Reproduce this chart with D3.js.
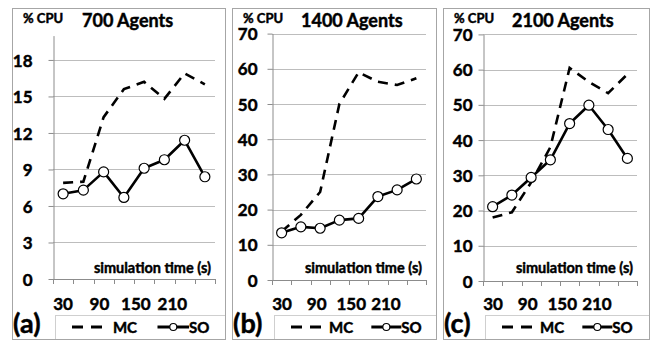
<!DOCTYPE html>
<html>
<head>
<meta charset="utf-8">
<script src="https://cdn.jsdelivr.net/npm/d3@7"></script>
<style>
  body { margin: 0; background: #fff; }
  svg { display: block; }
  svg text { font-family: Lato, "Open Sans", sans-serif; font-weight: bold; fill: #000;
             stroke: #000; stroke-width: 0.45px; }
</style>
</head>
<body>
<svg width="652" height="341"></svg>
<script>
// data
var times = [30, 60, 90, 120, 150, 180, 210, 240];
var timeLabels = [30, 90, 150, 210];
var titles = ["700 Agents", "1400 Agents", "2100 Agents"];
var tags = ["(a)", "(b)", "(c)"];
var mc700 = [7.9, 8.0, 13.3, 15.6, 16.2, 14.8, 16.9, 16.0];
var so700 = [7.0, 7.3, 8.8, 6.7, 9.1, 9.8, 11.4, 8.4];
var mc1400 = [13.8, 18.5, 25.0, 50.0, 59.0, 56.3, 55.4, 57.3];
var so1400 = [13.4, 15.1, 14.7, 17.0, 17.5, 23.7, 25.6, 28.7];
var mc2100 = [18.0, 19.5, 28.0, 38.0, 60.5, 56.5, 53.3, 58.7];
var so2100 = [21.1, 24.4, 29.4, 34.4, 44.7, 49.9, 43.0, 34.8];
var yMax = [20, 70, 70];
var yStep = [3, 10, 10];

// panel geometry
var panels = [
  {left: 12, right: 225, x0: 53, x1: 215, y0: 279, yTop: 35.6, pad: 16, mc: mc700, so: so700},
  {left: 232, right: 436, x0: 272, x1: 426, y0: 280, yTop: 33.6, pad: 10, mc: mc1400, so: so1400},
  {left: 443, right: 649, x0: 483, x1: 637, y0: 281, yTop: 34.4, pad: 6, mc: mc2100, so: so2100}
];
var frameTop = 8, frameBottom = 339;

var svg = d3.select("svg");

panels.forEach(function(p, i) {
  var g = svg.append("g");
  var w = p.x1 - p.x0;

  var x = d3.scaleBand().domain(times).range([p.x0, p.x1]);
  var y = d3.scaleLinear().domain([0, yMax[i]]).range([p.y0, p.yTop]);
  var cx = function(t) { return x(t) + x.bandwidth() / 2; };

  var ticks = d3.range(0, yMax[i] + 1, yStep[i]);

  // gridlines
  g.selectAll(".grid")
    .data(ticks.filter(function(v) { return v > 0; }))
    .enter().append("line")
      .attr("x1", p.x0).attr("x2", p.x1)
      .attr("y1", function(v) { return Math.round(y(v)) + 0.5; })
      .attr("y2", function(v) { return Math.round(y(v)) + 0.5; })
      .attr("stroke", "#bdbdbd");

  // y axis
  var ya = g.append("g")
      .attr("transform", "translate(" + (p.x0 + 0.5) + ",0)")
      .call(d3.axisLeft(y).tickValues(ticks).tickSize(5).tickSizeOuter(0).tickPadding(p.pad));
  ya.selectAll("path, line").attr("stroke", "#8c8c8c");
  ya.selectAll("text").style("font-size", "17px").attr("dy", "0.36em");

  // x axis line + ticks at band edges
  g.append("line")
      .attr("x1", p.x0).attr("x2", p.x1)
      .attr("y1", Math.round(p.y0) + 0.5).attr("y2", Math.round(p.y0) + 0.5)
      .attr("stroke", "#8c8c8c");
  g.selectAll(".xt")
    .data(times.concat(["end"]))
    .enter().append("line")
      .attr("x1", function(t) { return Math.round(t === "end" ? p.x1 : x(t)) + 0.5; })
      .attr("x2", function(t) { return Math.round(t === "end" ? p.x1 : x(t)) + 0.5; })
      .attr("y1", Math.round(p.y0)).attr("y2", Math.round(p.y0) + 5)
      .attr("stroke", "#8c8c8c");

  // x labels (squeezed like the original)
  var xl = d3.scalePoint().domain(timeLabels).range([p.x0 + 10, p.x0 + 10 + w * 0.675]);
  g.selectAll(".xl")
    .data(timeLabels)
    .enter().append("text")
      .attr("x", function(d) { return xl(d); })
      .attr("y", 310)
      .attr("text-anchor", "middle")
      .style("font-size", "17px")
      .text(function(d) { return d; });

  // titles
  g.append("text").attr("x", p.left + 11).attr("y", 23)
      .style("font-size", "13px").text("% CPU");
  g.append("text").attr("x", p.x0 + 29).attr("y", 27)
      .style("font-size", "18px").text(titles[i]);
  g.append("text").attr("x", p.x1 - 4).attr("y", 273)
      .attr("text-anchor", "end")
      .style("font-size", "14.5px").text("simulation time (s)");

  // series
  var line = d3.line()
      .x(function(d, k) { return cx(times[k]); })
      .y(function(d) { return y(d); });

  g.append("path").datum(p.mc)
      .attr("d", line)
      .attr("fill", "none").attr("stroke", "#000")
      .attr("stroke-width", 2.6).attr("stroke-dasharray", "10,7");

  g.append("path").datum(p.so)
      .attr("d", line)
      .attr("fill", "none").attr("stroke", "#000")
      .attr("stroke-width", 2.6).attr("stroke-linejoin", "round");

  g.selectAll(".pt")
    .data(p.so)
    .enter().append("circle")
      .attr("cx", function(d, k) { return cx(times[k]); })
      .attr("cy", function(d) { return y(d); })
      .attr("r", 5)
      .attr("fill", "#fff").attr("stroke", "#000").attr("stroke-width", 1.2);

  // legend
  var lx = p.x0 + 2, ly = 327;
  g.append("rect")
      .attr("x", lx + 0.5).attr("y", 315.5)
      .attr("width", p.right - lx).attr("height", frameBottom - 315)
      .attr("fill", "#fff").attr("stroke", "#cfcfcf");
  g.append("line")
      .attr("x1", p.x0 + 19).attr("x2", p.x0 + 19 + 30)
      .attr("y1", ly).attr("y2", ly)
      .attr("stroke", "#000").attr("stroke-width", 3).attr("stroke-dasharray", "11,8");
  g.append("text").attr("x", p.x0 + 0.37 * w).attr("y", ly + 6)
      .style("font-size", "15px").text("MC");
  var s0 = p.x0 + 0.645 * w, s1 = p.x0 + 0.84 * w;
  g.append("line")
      .attr("x1", s0).attr("x2", s1)
      .attr("y1", ly).attr("y2", ly)
      .attr("stroke", "#000").attr("stroke-width", 3);
  g.append("circle")
      .attr("cx", (s0 + s1) / 2).attr("cy", ly).attr("r", 3.5)
      .attr("fill", "#fff").attr("stroke", "#000").attr("stroke-width", 1.1);
  g.append("text").attr("x", s1).attr("y", ly + 6)
      .style("font-size", "15px").text("SO");

  g.append("text").attr("x", p.left + 1).attr("y", 333)
      .style("font-size", "27px").text(tags[i]);

  // panel frame on top
  g.append("rect")
      .attr("x", p.left + 0.5).attr("y", frameTop + 0.5)
      .attr("width", p.right - p.left).attr("height", frameBottom - frameTop)
      .attr("fill", "none").attr("stroke", "#a6a6a6");
});
</script>
</body>
</html>
